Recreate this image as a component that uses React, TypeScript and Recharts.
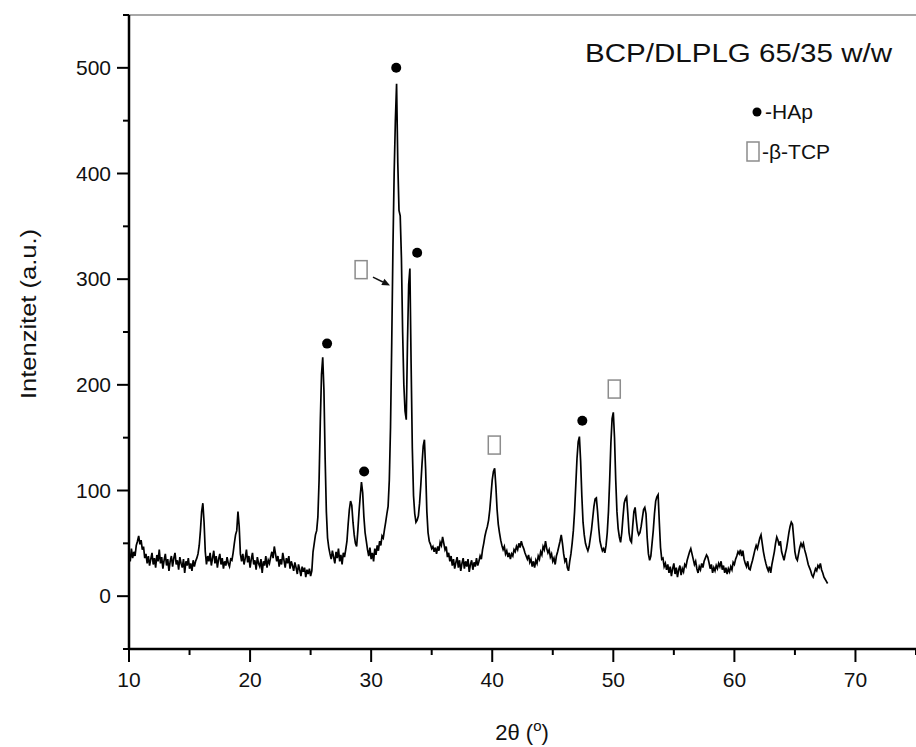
import React from 'react';
import { LineChart, Line, XAxis, YAxis, ReferenceLine, ReferenceDot } from 'recharts';

// XRD scan: each block = [start 2θ, intensities every 0.1°]
const STEP = 0.1;
const scanA: [number, number[]] = [10.0, [40,33,45,36,42,38,48,52,57,49,53,44,47,36,40,31]];
const scanB: [number, number[]] = [11.6, [38,29,35,41,30,36,27,39,33,44, 31,37,26,34,40,29,35,24,33,38, 28,36,41,30,34,25,37,31,27,35, 22,33,29,36,26,31,24,34,28,33]];
const scanC: [number, number[]] = [15.6, [36,40,48,62,80,88,70,42,30]];
const scanD: [number, number[]] = [16.5, [38,33,41,29,36,43,31,38,27,35, 40,30,36,26,33,29,37,31,28,35]];
const scanE: [number, number[]] = [18.5, [34,41,50,58,62,80,66,40,33]];
const scanF: [number, number[]] = [19.4, [40,30,36,44,32,38,27,35,41,30, 34,25,37,31,28,35,22,33,29,38, 27,34]];
const scanG: [number, number[]] = [21.6, [31,37,42,36,47,40,33,38,28,35]];
const scanH: [number, number[]] = [22.6, [30,41,34,27,36,31,38,26,33,29, 24,32,27,21,30,25,19,28,23,27, 18,25,21,26,19,24]];
const scanI: [number, number[]] = [25.2, [42,50,58,62,75,110,165,210,226,195,130,80,55,46,40]];
const scanJ: [number, number[]] = [26.7, [35,43,37,31,42,36,45,33,39,30,41,37,44,52]];
const scanK: [number, number[]] = [28.1, [68,82,90,86,70,58,50,47,62,80, 95,108,98,75,60,52,44,38,46,35, 41,33,45,39,48,43,52,48,57,55, 63,70,78]];
const scanL: [number, number[]] = [31.4, [85,110,160,240,330,400,450,485,410,365, 360,320,250,200,175,167,240,295,310,220, 140,95,78,70,72,76,88,105,125,142, 148,120,80,60,52,49,45,47,42]];
const scanM: [number, number[]] = [35.3, [46,40,47,43,51,48,56,50,44,47,37,41]];
const scanN: [number, number[]] = [36.5, [33,38,29,35,26,32,37,27,34,24, 31,36,26,33,28,35,23,30,34,25, 32,28,36,29,33,38,35,44]];
const scanO: [number, number[]] = [39.3, [50,57,62,66,72,82,96,110,118,121, 104,82,68,60,53,48,44,47,40,43, 37,41,35,40,38,44,42,47,44,50, 46,52,48,45,41,38,35,39,32,35, 28,33,27,34,31,38,35,42,39,47, 44,52,45,41,44,37,40,33,36,30, 38,42,47,52,58,50,40,33,36,27]];
const scanP: [number, number[]] = [46.3, [24,33,40,50,62,80,105,130,146,151, 128,95,70,58,50,46,43,47,55,63, 74,85,92,93,80,64,52,47,43,45, 41,48,60,80,110,145,168,174,150,110, 80,64,56,51,60,75,88,92,94,78, 60,53,51,66,80,84,72,62,58,60, 66,74,82,84,78,55,40,34,38,50, 62,78,90,94,96,70,46,35,36,28, 31]];
const scanQ: [number, number[]] = [54.4, [25,30,22,28,19,26,31,21,27,18, 25,29,20,26,23,30,28,34,38,42, 45,40,35,30,33,26,22,28,25,31, 27,33,36,39,37,32,26,30,22,27, 24,29,26,31,28,33,25,29,22,27, 21,26,23,28,25,32,30,35,38,42, 40,44,38,43,35,31,28,33,26,25, 30,34,39,44,48,45,50,55,58,50, 42,36,31,27,24,28,22,30,36,42, 50,56,53,48,52,42,38,34,40,45, 52,60,66,70,68,55,42,36,34,40, 46,50,47,50,44,40,35,30,27,24, 20,18,22,26,24,29,27,31,25,22, 18,16,14,12]];
const scanBlocks = [scanA, scanB, scanC, scanD, scanE, scanF, scanG, scanH, scanI, scanJ, scanK, scanL, scanM, scanN, scanO, scanP, scanQ];

const xTicks = [10, 15, 20, 25, 30, 35, 40, 45, 50, 55, 60, 65, 70, 75];
const xLabels = [10, 20, 30, 40, 50, 60, 70];
const yTicks = [-50, 0, 50, 100, 150, 200, 250, 300, 350, 400, 450, 500, 550];
const yLabels = [0, 100, 200, 300, 400, 500];

const hapMarks = [
  { x: 26.36, y: 239 },
  { x: 29.42, y: 118 },
  { x: 32.07, y: 500 },
  { x: 33.8, y: 325 },
  { x: 47.44, y: 166 },
];
const tcpMarks = [
  { x: 29.17, y: 309 },
  { x: 40.17, y: 143 },
  { x: 50.08, y: 196 },
];
const arrowFrom = { x: 30.15, y: 302 };
const arrowTo = { x: 31.56, y: 294 };

const title = 'BCP/DLPLG 65/35 w/w';
const legendHAp = '-HAp';
const legendTCP = '-β-TCP';
const yTitle = 'Intenzitet (a.u.)';

const data: { x: number; y: number }[] = [];
scanBlocks.forEach(([start, vals]) => {
  vals.forEach((v, i) => data.push({ x: Math.round((start + i * STEP) * 10) / 10, y: v }));
});

const FONT = "'Liberation Sans', Arial, Helvetica, sans-serif";

const XTick = (props: any) => {
  const { x, y, payload } = props;
  const v = payload.value;
  const major = xLabels.includes(v);
  return (
    <g>
      <line x1={x} y1={y} x2={x} y2={y + (major ? 13 : 6)} stroke="#000" strokeWidth={2} />
      {major && (
        <text x={x} y={y + 38} textAnchor="middle" fontSize={21} fontFamily={FONT} fill="#111">
          {v}
        </text>
      )}
    </g>
  );
};

const YTick = (props: any) => {
  const { x, y, payload } = props;
  const v = payload.value;
  const major = yLabels.includes(v);
  return (
    <g>
      <line x1={x} y1={y} x2={x - (major ? 12 : 6)} y2={y} stroke="#000" strokeWidth={2} />
      {major && (
        <text x={x - 18} y={y + 7} textAnchor="end" fontSize={21} fontFamily={FONT} fill="#111">
          {v}
        </text>
      )}
    </g>
  );
};

const BoxShape = (p: any) => (
  <rect x={p.cx - 6} y={p.cy - 9} width={12} height={18} fill="none" stroke="#8c8c8c" strokeWidth={1.5} />
);

const ArrowShape = (p: any) => {
  const { x1, y1, x2, y2 } = p;
  const dx = x2 - x1;
  const dy = y2 - y1;
  const len = Math.sqrt(dx * dx + dy * dy) || 1;
  const ux = dx / len;
  const uy = dy / len;
  const hl = 8;
  const hw = 3.5;
  const bx = x2 - ux * hl;
  const by = y2 - uy * hl;
  return (
    <g>
      <line x1={x1} y1={y1} x2={bx} y2={by} stroke="#111" strokeWidth={1.5} />
      <polygon
        points={`${x2},${y2} ${bx - uy * hw},${by + ux * hw} ${bx + uy * hw},${by - ux * hw}`}
        fill="#111"
      />
    </g>
  );
};

export default function App() {
  return (
    <div style={{ position: 'absolute', left: 0, top: 0, width: 916, height: 747, background: '#fff' }}>
      <LineChart width={916} height={747} data={data} margin={{ top: 15, right: 0, bottom: 0, left: 0 }}>
        <XAxis
          type="number"
          dataKey="x"
          domain={[10, 75]}
          ticks={xTicks}
          interval={0}
          tickSize={0}
          tickMargin={0}
          height={98}
          tickLine={false}
          axisLine={{ stroke: '#000', strokeWidth: 2.5 }}
          tick={<XTick />}
          allowDataOverflow
        />
        <YAxis
          type="number"
          domain={[-50, 550]}
          ticks={yTicks}
          interval={0}
          tickSize={0}
          tickMargin={0}
          width={129}
          tickLine={false}
          axisLine={{ stroke: '#000', strokeWidth: 2.5 }}
          tick={<YTick />}
          allowDataOverflow
        />
        <ReferenceLine y={550} stroke="#8a8a8a" strokeWidth={1.5} />
        <Line
          type="linear"
          dataKey="y"
          stroke="#000"
          strokeWidth={1.7}
          dot={false}
          isAnimationActive={false}
        />
        {hapMarks.map((m, i) => (
          <ReferenceDot key={'h' + i} x={m.x} y={m.y} r={5} fill="#000" stroke="none" />
        ))}
        {tcpMarks.map((m, i) => (
          <ReferenceDot key={'t' + i} x={m.x} y={m.y} r={6} shape={BoxShape} />
        ))}
        <ReferenceLine segment={[arrowFrom, arrowTo]} shape={ArrowShape} />
      </LineChart>
      <svg
        width={916}
        height={747}
        style={{ position: 'absolute', left: 0, top: 0, pointerEvents: 'none' }}
      >
        <text x={585} y={62} fontSize={25} fontFamily={FONT} fill="#111" textLength={307} lengthAdjust="spacingAndGlyphs">
          {title}
        </text>
        <circle cx={757} cy={112} r={4.5} fill="#000" />
        <text x={765} y={119} fontSize={21} fontFamily={FONT} fill="#111">
          {legendHAp}
        </text>
        <rect x={747} y={142} width={12} height={19} fill="none" stroke="#8c8c8c" strokeWidth={1.5} />
        <text x={762} y={159} fontSize={21} fontFamily={FONT} fill="#111">
          {legendTCP}
        </text>
        <text
          transform="translate(36,314) rotate(-90)"
          textAnchor="middle"
          fontSize={22}
          fontFamily={FONT}
          fill="#111"
          textLength={170}
          lengthAdjust="spacingAndGlyphs"
        >
          {yTitle}
        </text>
        <text x={522} y={740} textAnchor="middle" fontSize={22} fontFamily={FONT} fill="#111">
          2θ  (<tspan dy={-9} fontSize={15}>o</tspan>
          <tspan dy={9}>)</tspan>
        </text>
      </svg>
    </div>
  );
}
